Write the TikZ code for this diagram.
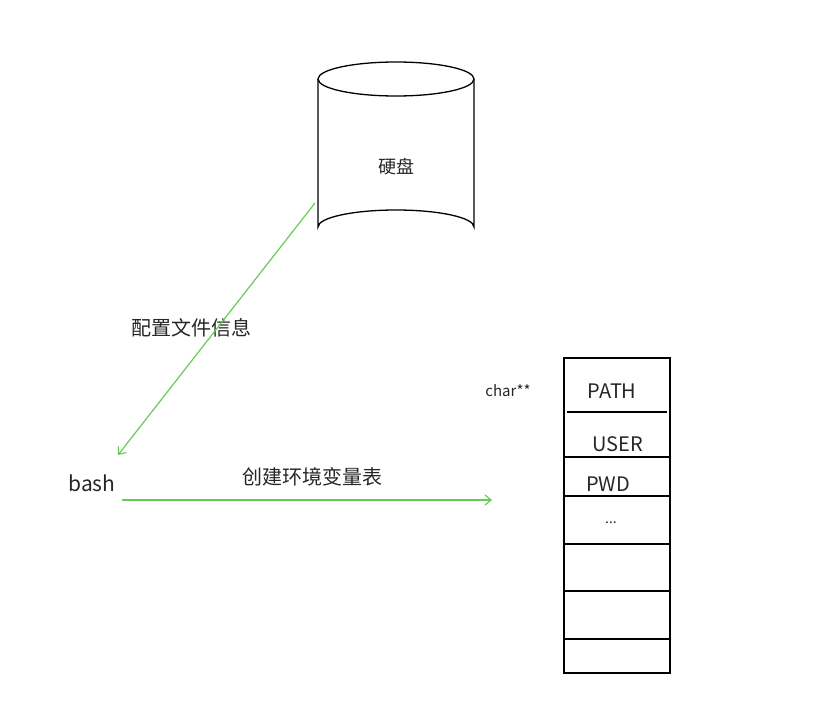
\documentclass[tikz,border=0pt]{standalone}
\usepackage{fontspec}
\setmainfont{Noto Sans CJK SC}
\usetikzlibrary{arrows.meta}
\begin{document}
\begin{tikzpicture}[x=1pt,y=-1pt,
  box/.style={line width=1.3pt,black},
  g/.style={draw={rgb,255:red,102;green,204;blue,85},line width=1.2pt,-{Straight Barb[length=6pt,width=10pt]}},
  t/.style={inner sep=0pt,text=black!85}]
\useasboundingbox (0,0) rectangle (829,720);
% cylinder
\draw[box] (318,79) -- (318,227) arc[start angle=180,end angle=360,x radius=78,y radius=17] -- (474,79);
\draw[box] (396,79) ellipse[x radius=78,y radius=17];
\node[t,font=\fontsize{18}{20}\selectfont] (disk) at (396,167) {硬盘};
\coordinate (dsrc) at (315,203);
% labels
\node[t,font=\fontsize{20}{22}\selectfont] (cfg) at (191,328) {配置文件信息};
\node[t,font=\fontsize{21}{24}\selectfont] (bash) at (92,483) {bash};
\coordinate (bdst) at (118,455);
\coordinate (bsrc) at (122,500);
\coordinate (tdst) at (492,500);
\node[t,font=\fontsize{20}{22}\selectfont] (mk) at (312,477) {创建环境变量表};
\draw[g] (dsrc) -- (bdst);
\draw[g] (bsrc) -- (tdst);
% table
\draw[box] (564,358) rectangle (670,673);
\draw[box] (567,412) -- (667,412);
\foreach \yy in {457,496,544,591,639} \draw[box] (564,\yy) -- (670,\yy);
\node[t,font=\fontsize{15}{17}\selectfont] (cc) at (508,391) {char**};
\node[t,font=\fontsize{20}{22}\selectfont] (p1) at (612,391) {PATH};
\node[t,font=\fontsize{20}{22}\selectfont] (p2) at (618,444) {USER};
\node[t,font=\fontsize{20}{22}\selectfont] (p3) at (608,484) {PWD};
\node[t,font=\fontsize{14}{16}\selectfont] (p4) at (611,523) {...};
\fill[white] (565,457.7) rectangle (669,460); % keep line above text
\draw[box] (564,457) -- (670,457);
\end{tikzpicture}
\end{document}
